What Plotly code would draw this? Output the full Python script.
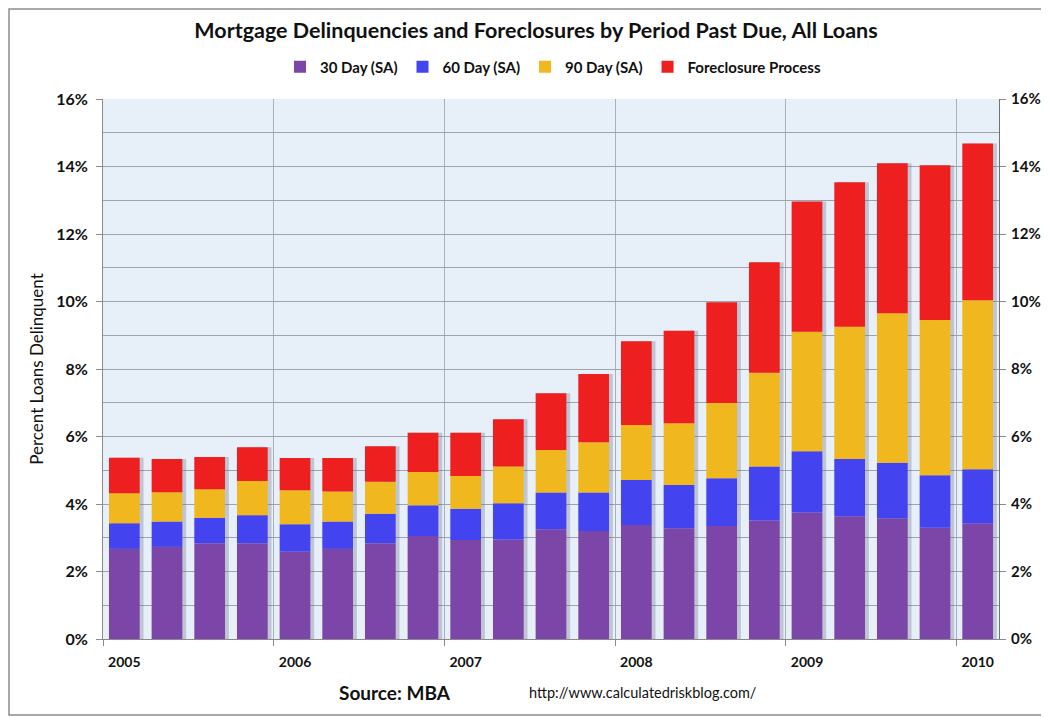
import plotly.graph_objects as go

years = ["2005", "2006", "2007", "2008", "2009", "2010"]
quarters = list(range(21))  # 2005 Q1 .. 2010 Q1

day30 = [2.67, 2.73, 2.84, 2.84, 2.59, 2.67, 2.84, 3.05, 2.93, 2.95, 3.25,
         3.20, 3.38, 3.28, 3.35, 3.51, 3.75, 3.64, 3.58, 3.30, 3.43]
day60 = [0.76, 0.75, 0.75, 0.83, 0.81, 0.81, 0.87, 0.91, 0.93, 1.07, 1.09,
         1.14, 1.33, 1.28, 1.41, 1.60, 1.81, 1.69, 1.64, 1.55, 1.60]
day90 = [0.89, 0.87, 0.85, 1.01, 1.01, 0.89, 0.95, 0.99, 0.97, 1.09, 1.26,
         1.49, 1.63, 1.83, 2.23, 2.78, 3.54, 3.92, 4.43, 4.60, 5.01]
foreclosure = [1.05, 0.98, 0.95, 1.00, 0.95, 0.99, 1.05, 1.16, 1.28, 1.40, 1.68,
               2.02, 2.48, 2.74, 2.99, 3.27, 3.86, 4.28, 4.45, 4.59, 4.64]

series = [
    ("30 Day (SA)", day30, "#7b46a8"),
    ("60 Day (SA)", day60, "#4343f0"),
    ("90 Day (SA)", day90, "#f0b81e"),
    ("Foreclosure Process", foreclosure, "#ee1f1f"),
]

FONT = "Lato"
# page has an 8px body margin; plot area wanted at page x 103..999, y 99..639
W, H = 1041, 709
L, T, R, B = 95, 91, 50, 78
PW, PH = W - L - R, H - T - B
BAR_W = 0.72


def px(x):
    return (x - 8 - L) / PW


def py(y):
    return (T + PH - (y - 8)) / PH


totals = [sum(v) for v in zip(day30, day60, day90, foreclosure)]

fig = go.Figure()
# soft drop shadow behind each stacked bar
fig.add_trace(go.Bar(x=quarters, y=totals, width=BAR_W, offset=-BAR_W / 2 + 0.09,
                     marker_color="rgba(90,95,115,0.28)", marker_line_width=0,
                     showlegend=False, hoverinfo="skip"))
base = [0.0] * len(quarters)
for name, vals, col in series:
    fig.add_trace(go.Bar(x=quarters, y=vals, base=list(base), name="<b>%s</b>" % name,
                         marker_color=col, marker_line_width=0, width=BAR_W,
                         offset=-BAR_W / 2))
    base = [b + v for b, v in zip(base, vals)]
# invisible trace to activate right axis
fig.add_trace(go.Scatter(x=[quarters[0]], y=[0], yaxis="y2", mode="markers",
                         marker=dict(opacity=0), showlegend=False, hoverinfo="skip"))

fig.update_layout(
    barmode="overlay",
    width=W, height=H,
    margin=dict(l=L, r=R, t=T, b=B, autoexpand=False),
    paper_bgcolor="white",
    plot_bgcolor="#e7eff9",
    font=dict(family=FONT, color="#111111"),
    title=dict(text="<b>Mortgage Delinquencies and Foreclosures by Period Past Due, All Loans</b>",
               x=px(536), xanchor="center", xref="paper", y=1 - (30 - 8) / H, yanchor="middle",
               font=dict(size=21.5, family=FONT, color="#111111")),
    legend=dict(orientation="h", x=px(553), xanchor="center", y=py(67), yanchor="middle",
                font=dict(size=15, family=FONT, color="#111111"),
                itemwidth=30, tracegroupgap=0, traceorder="normal"),
    xaxis=dict(range=[-0.5, 20.5], tickmode="array", automargin=False,
               tickvals=[quarters[4 * i] for i in range(len(years))],
               ticktext=["<b>%s</b>" % y for y in years],
               tickfont=dict(size=14, family=FONT, color="#111111"),
               ticklabelstandoff=10,
               ticks="", showgrid=False, zeroline=False,
               showline=True, linecolor="#8a8a8a", linewidth=1,
               minor=dict(tick0=-0.5, dtick=4, showgrid=True, gridcolor="#a8b0bc",
                          gridwidth=1, ticks="outside", ticklen=6, tickcolor="#8a8a8a")),
    yaxis=dict(range=[0, 16], dtick=2, tickformat="d", automargin=False,
               tickprefix="<b>", ticksuffix="%</b>",
               tickfont=dict(size=16, family=FONT, color="#111111"),
               ticklabelstandoff=5,
               showgrid=True, gridcolor="#a0a4aa", gridwidth=1,
               ticks="outside", ticklen=6, tickcolor="#8a8a8a",
               showline=True, linecolor="#8a8a8a", linewidth=1, zeroline=False,
               minor=dict(dtick=1, showgrid=True, gridcolor="#a0a4aa", gridwidth=1),
               title=dict(text="Percent Loans Delinquent", standoff=8,
                          font=dict(size=17, family=FONT, color="#111111"))),
    yaxis2=dict(range=[0, 16], dtick=2, tickformat="d", automargin=False,
                tickprefix="<b>", ticksuffix="%</b>",
                overlaying="y", side="right", showgrid=False, zeroline=False,
                tickfont=dict(size=15, family=FONT, color="#111111"),
                ticklabelstandoff=2,
                ticks="outside", ticklen=6, tickcolor="#8a8a8a",
                showline=True, linecolor="#707070", linewidth=1),
    shapes=[dict(type="rect", xref="paper", yref="paper",
                 x0=px(9), x1=px(1070), y0=py(715), y1=py(9),
                 line=dict(color="#8c8c8c", width=1.5), fillcolor="rgba(0,0,0,0)",
                 layer="below")],
    annotations=[
        dict(text="<b>Source: MBA</b>", xref="paper", yref="paper",
             x=px(395), y=py(692), xanchor="center", yanchor="middle",
             showarrow=False, font=dict(size=19, family=FONT, color="#111111")),
        dict(text="http://www.calculatedriskblog.com/", xref="paper", yref="paper",
             x=px(643), y=py(692), xanchor="center", yanchor="middle",
             showarrow=False, font=dict(size=14.5, family=FONT, color="#111111")),
    ],
)

fig.write_html("out.html")
